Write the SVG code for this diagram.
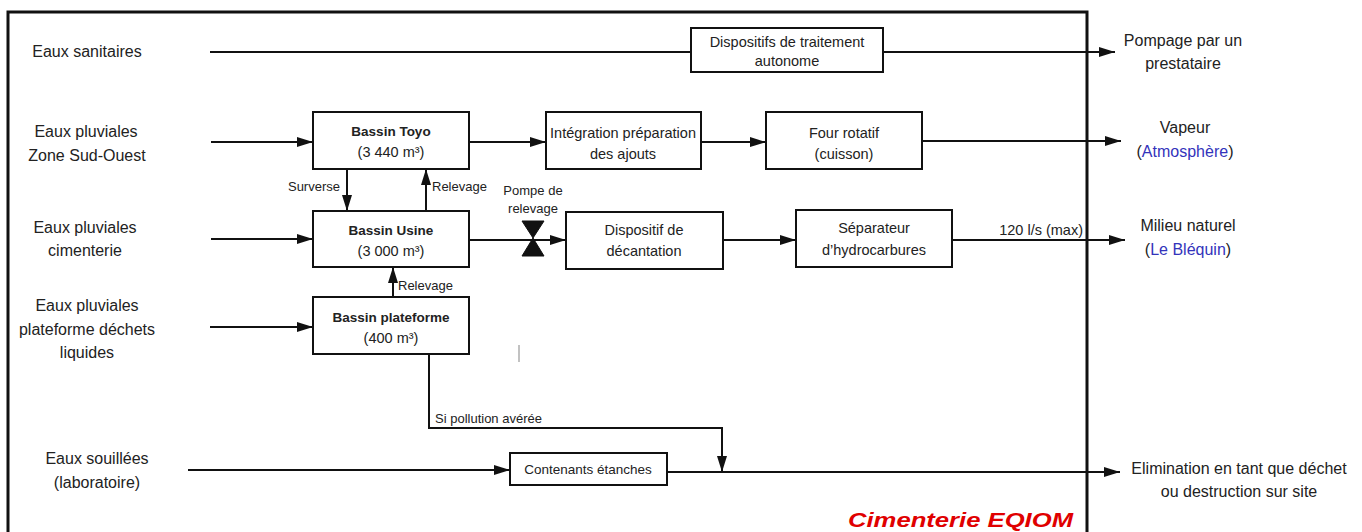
<svg xmlns="http://www.w3.org/2000/svg" width="1362" height="532" viewBox="0 0 1362 532">
<style>
text{font-family:"Liberation Sans",Arial,sans-serif;fill:#222;}
.lbl{font-size:16px;text-anchor:middle;}
.box{fill:#fff;stroke:#111;stroke-width:2;}
.bt{font-size:14.5px;text-anchor:middle;}
.bb{font-size:13.5px;text-anchor:middle;font-weight:bold;}
.sm{font-size:13px;}
.ln{fill:none;stroke:#111;stroke-width:2;}
.blue{fill:#3333bb;}
</style>
<defs>
<marker id="ah" markerUnits="userSpaceOnUse" markerWidth="18" markerHeight="12" refX="16" refY="6" orient="auto">
<path d="M0,1 L16,6 L0,11 Z" fill="#111"/>
</marker>
</defs>
<rect width="1362" height="532" fill="#fff"/>
<g id="frame">
<path d="M8,540 V12 H1087 V540" fill="none" stroke="#111" stroke-width="3"/>
<text x="1073" y="527" font-size="21" font-weight="bold" font-style="italic" text-anchor="end" textLength="225" lengthAdjust="spacingAndGlyphs" style="fill:#e00000">Cimenterie EQIOM</text>
</g>
<g id="inputs">
<text class="lbl" x="87" y="57">Eaux sanitaires</text>
<text class="lbl" x="86" y="137">Eaux pluviales</text>
<text class="lbl" x="87" y="161">Zone Sud-Ouest</text>
<text class="lbl" x="85" y="233">Eaux pluviales</text>
<text class="lbl" x="85" y="256">cimenterie</text>
<text class="lbl" x="87" y="311">Eaux pluviales</text>
<text class="lbl" x="87" y="335">plateforme déchets</text>
<text class="lbl" x="87" y="358">liquides</text>
<text class="lbl" x="97" y="464">Eaux souillées</text>
<text class="lbl" x="97" y="488">(laboratoire)</text>
</g>
<g id="outputs">
<text class="lbl" x="1183" y="46">Pompage par un</text>
<text class="lbl" x="1183" y="69">prestataire</text>
<text class="lbl" x="1185" y="133">Vapeur</text>
<text class="lbl" x="1185" y="157">(<tspan class="blue">Atmosphère</tspan>)</text>
<text class="lbl" x="1188" y="231">Milieu naturel</text>
<text class="lbl" x="1188" y="255">(<tspan class="blue">Le Bléquin</tspan>)</text>
<text class="lbl" x="1239" y="474">Elimination en tant que déchet</text>
<text class="lbl" x="1239" y="497">ou destruction sur site</text>
</g>
<g id="connectors">
<line class="ln" x1="210" y1="52" x2="691" y2="52"/>
<line class="ln" x1="883" y1="52" x2="1115" y2="52" marker-end="url(#ah)"/>
<line class="ln" x1="211" y1="142" x2="313" y2="142" marker-end="url(#ah)"/>
<line class="ln" x1="469" y1="142" x2="546" y2="142" marker-end="url(#ah)"/>
<line class="ln" x1="701" y1="142" x2="766" y2="142" marker-end="url(#ah)"/>
<line class="ln" x1="922" y1="141" x2="1121" y2="141" marker-end="url(#ah)"/>
<line class="ln" x1="347" y1="169" x2="347" y2="211" marker-end="url(#ah)"/>
<line class="ln" x1="426" y1="211" x2="426" y2="169" marker-end="url(#ah)"/>
<line class="ln" x1="211" y1="239" x2="313" y2="239" marker-end="url(#ah)"/>
<line class="ln" x1="469" y1="240" x2="566" y2="240" marker-end="url(#ah)"/>
<line class="ln" x1="723" y1="240" x2="796" y2="240" marker-end="url(#ah)"/>
<line class="ln" x1="952" y1="240" x2="1125" y2="240" marker-end="url(#ah)"/>
<line class="ln" x1="393" y1="297" x2="393" y2="267" marker-end="url(#ah)"/>
<line class="ln" x1="210" y1="327" x2="313" y2="327" marker-end="url(#ah)"/>
<path class="ln" d="M429,354 V428 H722 V472" marker-end="url(#ah)"/>
<line class="ln" x1="188" y1="470" x2="510" y2="470" marker-end="url(#ah)"/>
<line class="ln" x1="667" y1="472" x2="1120" y2="472" marker-end="url(#ah)"/>
<path id="pump" d="M522,221 H544 L533,238 Z M533,238 L544,256 H522 Z" fill="#111" stroke="#111" stroke-width="1"/>
<line x1="519" y1="345" x2="519" y2="362" stroke="#999" stroke-width="1.2"/>
<text class="sm" x="340" y="191" text-anchor="end">Surverse</text>
<text class="sm" x="432" y="191">Relevage</text>
<text class="sm" x="533" y="195" text-anchor="middle">Pompe de</text>
<text class="sm" x="533" y="213" text-anchor="middle">relevage</text>
<text class="sm" x="398" y="290">Relevage</text>
<text class="sm" x="435" y="423">Si pollution avérée</text>
<text x="1083" y="235" font-size="14.5" text-anchor="end">120 l/s (max)</text>
</g>
<g id="n-traitement">
<rect class="box" x="691" y="28" width="192" height="44"/>
<text class="bt" x="787" y="47">Dispositifs de traitement</text>
<text class="bt" x="787" y="66">autonome</text>
</g>
<g id="n-toyo">
<rect class="box" x="313" y="112" width="156" height="57"/>
<text class="bb" x="391" y="136">Bassin Toyo</text>
<text class="bt" x="391" y="157">(3 440 m³)</text>
</g>
<g id="n-integration">
<rect class="box" x="546" y="112" width="155" height="57"/>
<text class="bt" x="623" y="138">Intégration préparation</text>
<text class="bt" x="623" y="159">des ajouts</text>
</g>
<g id="n-four">
<rect class="box" x="766" y="112" width="156" height="57"/>
<text class="bt" x="844" y="138">Four rotatif</text>
<text class="bt" x="844" y="159">(cuisson)</text>
</g>
<g id="n-usine">
<rect class="box" x="313" y="211" width="156" height="56"/>
<text class="bb" x="391" y="235">Bassin Usine</text>
<text class="bt" x="391" y="256">(3 000 m³)</text>
</g>
<g id="n-decantation">
<rect class="box" x="566" y="212" width="157" height="57"/>
<text class="bt" x="644" y="235">Dispositif de</text>
<text class="bt" x="644" y="256">décantation</text>
</g>
<g id="n-separateur">
<rect class="box" x="796" y="210" width="156" height="57"/>
<text class="bt" x="874" y="233">Séparateur</text>
<text class="bt" x="874" y="255">d’hydrocarbures</text>
</g>
<g id="n-plateforme">
<rect class="box" x="313" y="297" width="156" height="57"/>
<text class="bb" x="391" y="322">Bassin plateforme</text>
<text class="bt" x="391" y="343">(400 m³)</text>
</g>
<g id="n-contenants">
<rect class="box" x="510" y="453" width="157" height="32"/>
<text x="588" y="474" font-size="13.5" text-anchor="middle">Contenants étanches</text>
</g>
</svg>
